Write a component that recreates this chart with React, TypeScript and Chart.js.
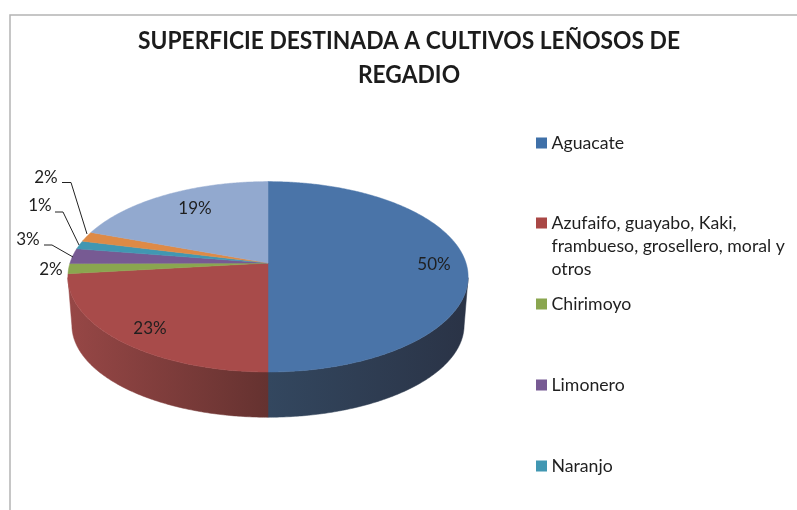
import React, { useEffect, useRef } from "react";
import { Chart, registerables } from "chart.js";

Chart.register(...registerables);

const titleLines = ["SUPERFICIE DESTINADA A CULTIVOS LEÑOSOS DE", "REGADIO"];
const categories: string[][] = [
  ["Aguacate"],
  ["Azufaifo, guayabo, Kaki,", "frambueso, grosellero, moral y", "otros"],
  ["Chirimoyo"],
  ["Limonero"],
  ["Naranjo"],
  [""],
  [""],
];
const values = [50, 23.2, 1.7, 2.6, 1.4, 1.7, 19.4];
const faceColors = ["#4a74a8", "#a84b4a", "#8aa64f", "#775a93", "#4197b2", "#de8a46", "#92a9cf"];
const swatchColors = ["#3f70a8", "#a94745", "#8aa64f", "#775a93", "#4197b2", "#de8a46", "#92a9cf"];
const wallLight = ["#33475f", "#974746", "#5f7436", "#503c64", "#2c687c", "#a0622f", "#66758f"];
const wallDark = ["#2a3346", "#653230", "#5f7436", "#503c64", "#2c687c", "#a0622f", "#66758f"];

const FONT = "Lato, Carlito, sans-serif";
const TEXT = "#1f1f1f";
const K = 0.145;
const SQUASH = 0.4707;
const ELLIPSE_SHIFT = 13.7;
const DEPTH = 48.3;
const BOTTOM_SX = 0.98;
const BOTTOM_SY = 0.968;

const legendRows = [143, 223, 304, 385, 466];
const valueLabelPos: ({ x: number; y: number; line?: number[][] } | null)[] = [
  { x: 434, y: 265 },
  { x: 150, y: 329 },
  { x: 51, y: 270 },
  { x: 28, y: 240, line: [[44, 245], [52, 245], [73, 257]] },
  { x: 40, y: 206, line: [[55, 212], [63, 212], [79, 245]] },
  { x: 46, y: 178, line: [[62, 182.5], [71, 182.5], [87, 234]] },
  { x: 195, y: 209 },
];

const pie3d = {
  id: "pie3d",
  beforeDraw(chart: any) {
    const ctx = chart.ctx;
    ctx.save();
    ctx.strokeStyle = "#b4b4b4";
    ctx.lineWidth = 1.5;
    ctx.beginPath();
    ctx.moveTo(10, 510);
    ctx.lineTo(10, 15);
    ctx.lineTo(797, 15);
    ctx.stroke();

    ctx.fillStyle = "#1c1c1c";
    ctx.font = `bold 24.5px ${FONT}`;
    ctx.textAlign = "center";
    ctx.textBaseline = "middle";
    ctx.fillText(titleLines[0], 409, 41, 542);
    const w0 = ctx.measureText(titleLines[0]).width;
    ctx.fillText(titleLines[1], 409, 75.5, (ctx.measureText(titleLines[1]).width * 542) / w0);
    ctx.restore();
  },
  beforeDatasetDraw(chart: any) {
    const ctx = chart.ctx;
    const arcs = chart.getDatasetMeta(0).data;
    const project = (a: any, th: number) => {
      const v = Math.sin(th);
      const d = 1 - K * v;
      return [a.x + (a.outerRadius * Math.cos(th)) / d, a.y + (a.outerRadius * SQUASH * v) / d];
    };
    const lower = (a: any, p: number[]) => {
      const ey = a.y + ELLIPSE_SHIFT;
      return [a.x + (p[0] - a.x) * BOTTOM_SX, ey + DEPTH + (p[1] - ey) * BOTTOM_SY];
    };
    const angles = (a: any) => {
      const n = Math.max(2, Math.ceil((a.endAngle - a.startAngle) / 0.01));
      const out: number[] = [];
      for (let i = 0; i <= n; i++) out.push(a.startAngle + ((a.endAngle - a.startAngle) * i) / n);
      return out;
    };

    ctx.save();
    arcs.forEach((a: any, i: number) => {
      const pts = angles(a)
        .filter((th) => Math.sin(th) >= K)
        .map((th) => project(a, th));
      if (pts.length < 2) return;
      const xs = pts.map((p) => p[0]);
      const g = ctx.createLinearGradient(Math.min(...xs), 0, Math.max(...xs), 0);
      g.addColorStop(0, wallLight[i]);
      g.addColorStop(1, wallDark[i]);
      ctx.fillStyle = g;
      ctx.strokeStyle = g;
      ctx.lineWidth = 0.5;
      ctx.beginPath();
      pts.forEach((p, j) => (j ? ctx.lineTo(p[0], p[1]) : ctx.moveTo(p[0], p[1])));
      pts
        .slice()
        .reverse()
        .forEach((p) => {
          const q = lower(a, p);
          ctx.lineTo(q[0], q[1]);
        });
      ctx.closePath();
      ctx.fill();
      ctx.stroke();
    });
    arcs.forEach((a: any, i: number) => {
      ctx.fillStyle = faceColors[i];
      ctx.strokeStyle = faceColors[i];
      ctx.lineWidth = 0.5;
      ctx.beginPath();
      ctx.moveTo(a.x, a.y);
      angles(a).forEach((th) => {
        const p = project(a, th);
        ctx.lineTo(p[0], p[1]);
      });
      ctx.closePath();
      ctx.fill();
      ctx.stroke();
    });
    ctx.restore();
    return false;
  },
  afterDraw(chart: any) {
    const ctx = chart.ctx;
    ctx.save();
    ctx.textBaseline = "middle";
    ctx.textAlign = "center";
    ctx.font = `17px ${FONT}`;
    values.forEach((v, i) => {
      const pos = valueLabelPos[i];
      if (!pos) return;
      ctx.fillStyle = TEXT;
      ctx.fillText(`${Math.round(v)}%`, pos.x, pos.y);
      if (pos.line) {
        ctx.strokeStyle = "#222222";
        ctx.lineWidth = 1;
        ctx.beginPath();
        pos.line.forEach((p, j) => (j ? ctx.lineTo(p[0], p[1]) : ctx.moveTo(p[0], p[1])));
        ctx.stroke();
      }
    });
    ctx.textAlign = "left";
    ctx.font = `17.7px ${FONT}`;
    legendRows.forEach((y, i) => {
      ctx.fillStyle = swatchColors[i];
      ctx.fillRect(536, y - 5.5, 11, 11);
      ctx.fillStyle = TEXT;
      categories[i].forEach((line, j) => ctx.fillText(line, 551.5, y + j * 23.3));
    });
    ctx.restore();
  },
};

export default function App() {
  const ref = useRef<HTMLCanvasElement | null>(null);
  useEffect(() => {
    const chart = new Chart(ref.current as HTMLCanvasElement, {
      type: "pie",
      data: {
        labels: categories.map((c) => c.join(" ")),
        datasets: [{ data: values, backgroundColor: faceColors, borderWidth: 0 }],
      },
      options: {
        animation: false,
        responsive: false,
        radius: 198,
        layout: { padding: { top: 16, right: 261, bottom: 0, left: 0 } },
        plugins: { legend: { display: false }, title: { display: false }, tooltip: { enabled: false } },
      },
      plugins: [pie3d],
    } as any);
    return () => chart.destroy();
  }, []);
  return (
    <div style={{ position: "absolute", left: 0, top: 0, width: 797, height: 510, background: "#fff" }}>
      <canvas ref={ref} width={797} height={510} style={{ display: "block" }} />
    </div>
  );
}
